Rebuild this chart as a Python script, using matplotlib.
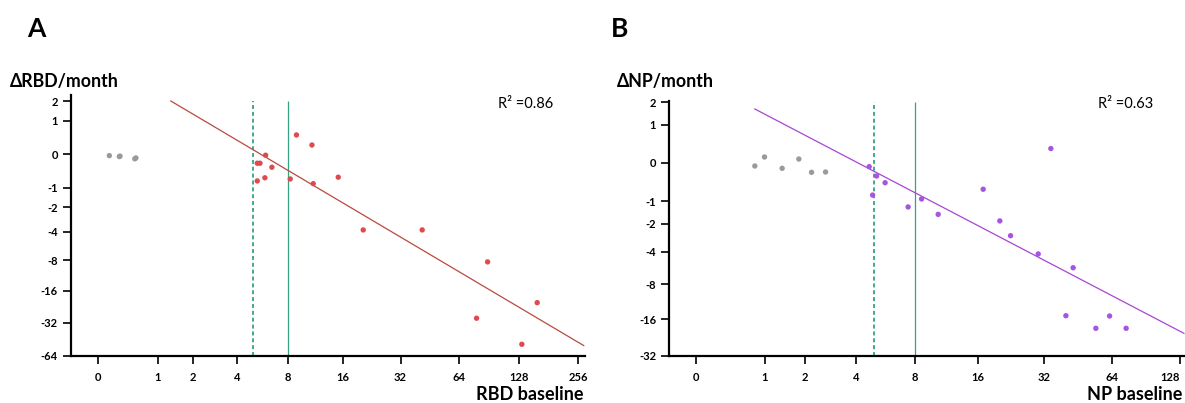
import numpy as np
import matplotlib
matplotlib.use("Agg")
import matplotlib.pyplot as plt

plt.rcParams['font.family'] = ['Lato', 'DejaVu Sans']

# ---------------- data ----------------
xticks_A = [0, 1, 2, 4, 8, 16, 32, 64, 128, 256]
yticks_A = [2, 1, 0, -1, -2, -4, -8, -16, -32, -64]
xticks_B = [0, 1, 2, 4, 8, 16, 32, 64, 128]
yticks_B = [2, 1, 0, -1, -2, -4, -8, -16, -32]

grayA_x = [0.14, 0.28, 0.29, 0.55, 0.53]
grayA_y = [-0.03, -0.05, -0.04, -0.08, -0.10]
redA_x = [5.30, 5.50, 5.94, 6.46, 5.88, 5.30, 8.22, 8.91, 10.85, 11.03, 15.06,
          20.43, 41.37, 89.2, 78.4, 159, 133]
redA_y = [-0.205, -0.205, -0.021, -0.31, -0.63, -0.74, -0.67, 0.49, 0.21, -0.84, -0.61,
          -3.80, -3.80, -8.31, -28.9, -20.66, -50.3]
fitA_slope = -1.062          # slope in log2(|v|+1) space
fitA_intercept = 2.880
fitA_xrange = [1.32, 273]
r2_A = "R\u00b2 =0.86"

grayB_x = [0.813, 0.998, 1.385, 1.819, 2.203, 2.686]
grayB_y = [-0.056, 0.115, -0.101, 0.075, -0.184, -0.177]
purpleB_x = [4.71, 5.15, 5.70, 4.91, 7.44, 8.66, 10.41, 16.92, 20.18, 22.59, 30.13,
             43.2, 34.34, 40.1, 62.7, 54.5, 74.2]
purpleB_y = [-0.069, -0.266, -0.43, -0.79, -1.22, -0.92, -1.54, -0.61, -1.86, -2.74, -4.21,
             -5.69, 0.30, -14.97, -15.06, -19.07, -19.07]
fitB_slope = -0.9454
fitB_intercept = 2.225
fitB_xrange = [0.813, 133.3]
r2_B = "R\u00b2 =0.63"

cutoffs = [5, 8]


def fwd(v):
    v = np.asarray(v, dtype=float)
    return np.sign(v) * np.log2(np.abs(v) + 1)


def inv(t):
    t = np.asarray(t, dtype=float)
    return np.sign(t) * (2 ** np.abs(t) - 1)


fig = plt.figure(figsize=(11.85, 4.03), dpi=100)
H = 403.0
W = 1185.0
axA = fig.add_axes([71 / W, (H - 355.7) / H, 514 / W, (355.7 - 95) / H])
axB = fig.add_axes([669.3 / W, (H - 355.7) / H, 514.7 / W, (355.7 - 101) / H])

green = '#35a383'
panels = [
    (axA, grayA_x, grayA_y, redA_x, redA_y, '#e04a4e', '#b94a40', fitA_slope, fitA_intercept,
     fitA_xrange, xticks_A, yticks_A, (-0.366, 277), (-64, 2.41), r2_A),
    (axB, grayB_x, grayB_y, purpleB_x, purpleB_y, '#a654e2', '#a845d4', fitB_slope, fitB_intercept,
     fitB_xrange, xticks_B, yticks_B, (-0.301, 133.4), (-32, 2.08), r2_B),
]

for (ax, gx, gy, cx, cy, dotc, linec, sl, ic, xr, xt, yt, xl, yl, r2) in panels:
    ax.set_xscale('function', functions=(fwd, inv))
    ax.set_yscale('function', functions=(fwd, inv))
    ax.set_xlim(*xl)
    ax.set_ylim(*yl)
    ax.vlines(cutoffs[0], yl[0], 2, colors=green, linestyles=(0, (2.2, 1.6)), lw=1.3, zorder=1)
    ax.vlines(cutoffs[1], yl[0], 2, colors=green, linestyles='-', lw=0.9, zorder=1)
    tx = np.linspace(fwd(xr[0]), fwd(xr[1]), 200)
    ax.plot(inv(tx), inv(sl * tx + ic), color=linec, lw=0.9, zorder=2, clip_on=False)
    ax.scatter(gx, gy, s=15, color='#9a9a9a', edgecolors='none', zorder=3)
    ax.scatter(cx, cy, s=15, color=dotc, edgecolors='none', zorder=3)
    ax.set_xticks(xt)
    ax.set_xticklabels([str(v) for v in xt])
    ax.set_yticks(yt)
    ax.set_yticklabels([str(v) for v in yt])
    ax.minorticks_off()
    for s in ['top', 'right']:
        ax.spines[s].set_visible(False)
    for s in ['left', 'bottom']:
        ax.spines[s].set_linewidth(1.6)
    ax.tick_params(axis='both', direction='out', length=5.5, width=1.2, labelsize=8)
    ax.tick_params(axis='x', pad=6)
    ax.tick_params(axis='y', pad=4)
    for lab in ax.get_xticklabels() + ax.get_yticklabels():
        lab.set_fontweight('bold')

# keep the last tick label of panel B inside the figure
axB.get_xticklabels()[-1].set_horizontalalignment('right')

fig.text(27 / W, 1 - 37 / H, 'A', fontsize=19, fontweight='bold', va='baseline')
fig.text(611 / W, 1 - 37 / H, 'B', fontsize=19, fontweight='bold', va='baseline')
fig.text(10 / W, 1 - 87 / H, '\u0394RBD/month', fontsize=12.8, fontweight='bold', va='baseline')
fig.text(617 / W, 1 - 87 / H, '\u0394NP/month', fontsize=12.8, fontweight='bold', va='baseline')
fig.text(584 / W, 1 - 400 / H, 'RBD baseline', fontsize=13, fontweight='bold', va='baseline', ha='right')
fig.text(1182 / W, 1 - 400 / H, 'NP baseline', fontsize=13, fontweight='bold', va='baseline', ha='right')
fig.text(498 / W, 1 - 107.7 / H, r2_A, fontsize=10.5, va='baseline')
fig.text(1098 / W, 1 - 107.7 / H, r2_B, fontsize=10.5, va='baseline')

fig.savefig('out.png', dpi=100)
